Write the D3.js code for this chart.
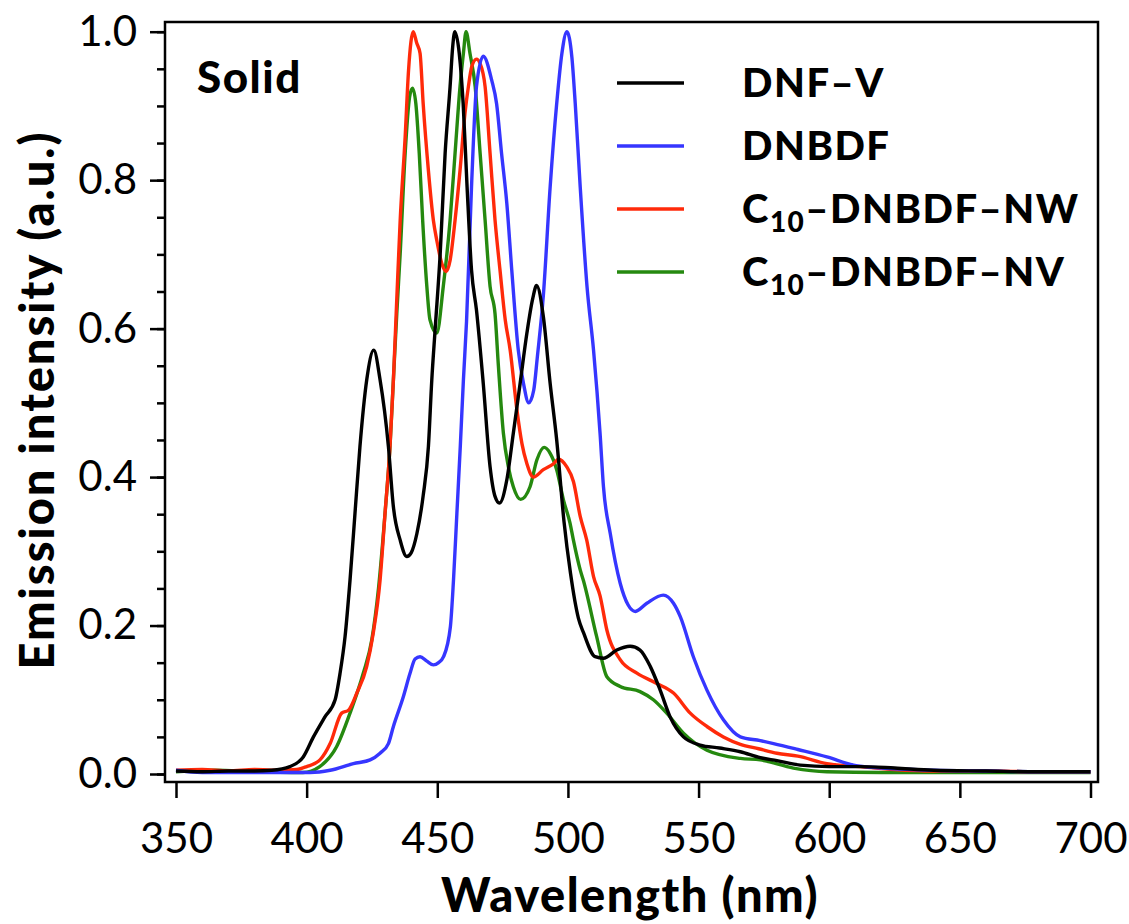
<!DOCTYPE html>
<html>
<head>
<meta charset="utf-8">
<style>
  body { margin: 0; background: #fff; }
  svg { display: block; font-family: Lato, "Open Sans", sans-serif; }
  .axis text { font-size: 42px; fill: #000; font-family: Lato, "Open Sans", sans-serif; }
  .axis line { stroke: #000; stroke-width: 2.5; }
  .title { font-weight: 900; }
</style>
</head>
<body>
<div id="chart"></div>
<script src="https://cdn.jsdelivr.net/npm/d3@7"></script>
<script>
// emission spectra, [wavelength nm, normalised intensity]
var dnfV = [
  [350,0.004],[360,0.003],[370,0.004],[380,0.004],[386.6,0.005],[393.6,0.01],[398.7,0.023],
  [402.6,0.05],[407,0.077],[410.9,0.10],[412.8,0.136],[414.7,0.185],[416.6,0.261],[418.5,0.351],
  [420.4,0.441],[423,0.531],[425.7,0.571],[428.1,0.531],[431.3,0.441],[433.2,0.36],[435.8,0.315],
  [438.3,0.293],[440,0.298],[442.2,0.324],[444.6,0.375],[446.6,0.441],[447.9,0.531],[449.2,0.60],
  [451.1,0.70],[453,0.836],[454.9,0.926],[455.9,0.98],[456.7,1.0],[458.4,0.971],[459.9,0.903],
  [461.4,0.791],[463.1,0.679],[465,0.625],[467.6,0.526],[470.2,0.414],[472.1,0.374],[473.8,0.365],
  [476.6,0.396],[479.1,0.459],[481.7,0.526],[484.3,0.594],[486.5,0.64],[488,0.658],[490.6,0.616],
  [493.2,0.526],[495.7,0.45],[498.5,0.34],[501,0.27],[504,0.21],[506,0.19],[510.4,0.158],
  [513.6,0.156],[518.7,0.167],[523.8,0.172],[527.6,0.167],[531.5,0.145],[535.3,0.113],[539.1,0.077],
  [544.2,0.05],[550.6,0.039],[558,0.035],[566,0.03],[573.6,0.022],[580,0.018],[588.9,0.012],
  [600,0.01],[612,0.01],[625,0.008],[640,0.005],[660,0.004],[680,0.003],[700,0.003]
];
var dnbdf = [
  [350,0.005],[360,0.002],[380,0.002],[401.3,0.002],[409,0.005],[417.9,0.014],[424.3,0.019],
  [428.1,0.028],[431.3,0.041],[433.2,0.064],[437,0.104],[439.6,0.136],[441.5,0.155],[443.4,0.158],
  [446,0.152],[448.5,0.147],[450.5,0.15],[452.4,0.158],[455,0.198],[456.2,0.261],[457.5,0.351],
  [458.8,0.441],[460,0.531],[461.2,0.61],[463.1,0.791],[465,0.926],[467.6,0.967],[470.8,0.935],
  [472.7,0.903],[474.6,0.836],[476.6,0.769],[478.5,0.679],[481,0.571],[483,0.526],[485,0.50],
  [486.9,0.517],[488.3,0.562],[490.6,0.645],[493.2,0.791],[495.7,0.903],[497.7,0.971],[499.6,1.0],
  [501.5,0.966],[502.8,0.903],[504.7,0.791],[507.3,0.657],[509.8,0.571],[512.3,0.459],[513.6,0.387],
  [516.2,0.324],[520,0.257],[523,0.228],[525.8,0.219],[530.2,0.23],[536.5,0.241],[540.4,0.23],
  [543,0.212],[548,0.158],[553.2,0.113],[559.5,0.073],[566,0.05],[573.6,0.045],[578.7,0.041],
  [588,0.033],[599.1,0.023],[609.3,0.012],[620,0.008],[640,0.005],[660,0.004],[680,0.003],[700,0.003]
];
var c10NW = [
  [350,0.005],[360,0.006],[370,0.004],[380,0.006],[390,0.005],[396.2,0.006],[400,0.01],[405.1,0.019],
  [409,0.041],[413.4,0.082],[416,0.086],[419.2,0.109],[423,0.145],[425.5,0.19],[428.1,0.261],
  [430,0.351],[431.9,0.441],[433.2,0.531],[434.5,0.64],[435.8,0.746],[437.7,0.858],[439,0.948],
  [440.8,1.0],[442.1,0.985],[443.4,0.971],[444.6,0.903],[446.6,0.813],[448.5,0.746],[449.8,0.719],
  [451.7,0.688],[453.4,0.677],[454.9,0.692],[456.8,0.746],[458.7,0.813],[460.6,0.89],[461.9,0.926],
  [463.2,0.953],[465,0.963],[466.4,0.957],[468.3,0.926],[470.2,0.836],[472.1,0.746],[474,0.679],
  [476,0.612],[477.9,0.571],[480.5,0.49],[482.4,0.445],[484.3,0.418],[486.8,0.40],[490.6,0.41],
  [494.5,0.418],[496.4,0.424],[499.5,0.414],[502.1,0.394],[504.7,0.347],[507.2,0.315],[509.8,0.266],
  [512.3,0.24],[514.9,0.194],[520,0.154],[526.4,0.136],[534,0.122],[540.4,0.109],[546.8,0.082],
  [553.2,0.064],[559.5,0.05],[566,0.04],[573,0.034],[580,0.028],[588,0.024],[599.1,0.014],
  [611.9,0.01],[625,0.006],[640,0.004],[660,0.004],[680,0.003],[700,0.003]
];
var c10NV = [
  [350,0.003],[365,0.005],[380,0.003],[398.6,0.002],[405,0.01],[411.5,0.037],[416.6,0.082],
  [421.7,0.136],[424.9,0.18],[427.5,0.25],[430,0.351],[431.9,0.441],[433.2,0.531],[434.5,0.62],
  [435.8,0.701],[437.7,0.836],[439.4,0.912],[440.5,0.924],[441.8,0.903],[443.1,0.836],[444.4,0.746],
  [446,0.657],[447.2,0.612],[449.8,0.594],[452.3,0.657],[454.9,0.746],[456.8,0.836],[458.7,0.926],
  [460,0.971],[461,1.0],[462.5,0.971],[464.5,0.926],[466.4,0.836],[468.3,0.746],[470.2,0.657],
  [472.1,0.62],[473.4,0.549],[475.3,0.459],[477.2,0.414],[479.1,0.387],[481.9,0.37],[485.5,0.387],
  [488.1,0.423],[490.9,0.44],[493.2,0.432],[495.7,0.41],[498.3,0.369],[500.8,0.338],[502.1,0.315],
  [504.7,0.275],[505.9,0.261],[511,0.185],[514.9,0.131],[520,0.118],[527.6,0.111],[532.7,0.1],
  [537.8,0.082],[544.2,0.055],[553.2,0.032],[566,0.021],[573.6,0.019],[586.3,0.008],[599.1,0.003],
  [620,0.002],[650,0.002],[700,0.002]
];

var xTicks = [350, 400, 450, 500, 550, 600, 650, 700];
var yTicks = [0, 0.2, 0.4, 0.6, 0.8, 1.0];
var yMinorTicks = d3.range(0, 1.0001, 0.05);

// legend: name, subscript, rest
var legendItems = [
  { pre: "DNF\u2013V", sub: "", post: "", color: "#000000" },
  { pre: "DNBDF", sub: "", post: "", color: "#3636ff" },
  { pre: "C", sub: "10", post: "\u2013DNBDF\u2013NW", color: "#ff2a0a" },
  { pre: "C", sub: "10", post: "\u2013DNBDF\u2013NV", color: "#25890f" }
];
var series = [
  { data: c10NV, color: "#25890f" },
  { data: c10NW, color: "#ff2a0a" },
  { data: dnbdf, color: "#3636ff" },
  { data: dnfV, color: "#000000" }
];

/*
 * Setup
 */
var W = 1129, H = 924;
var frame = { left: 165, top: 22, right: 1098, bottom: 782 };

var x = d3.scaleLinear().domain([350, 700]).range([176, 1090.5]);
var y = d3.scaleLinear().domain([0, 1]).range([774, 31.7]);

var svg = d3.select("#chart").append("svg")
  .attr("width", W)
  .attr("height", H);

/*
 * Curves
 */
var line = d3.line()
  .x(function(d) { return x(d[0]); })
  .y(function(d) { return y(d[1]); })
  .curve(d3.curveMonotoneX);

svg.selectAll("path.spectrum")
  .data(series)
  .enter()
  .append("path")
  .attr("class", "spectrum")
  .attr("fill", "none")
  .attr("stroke", function(d) { return d.color; })
  .attr("stroke-width", 3.4)
  .attr("stroke-linejoin", "round")
  .attr("d", function(d) { return line(d.data); });

/*
 * Axes
 */
var xAxis = d3.axisBottom(x)
  .tickValues(xTicks)
  .tickSize(16)
  .tickPadding(25)
  .tickFormat(d3.format("d"));

svg.append("g")
  .attr("class", "axis")
  .attr("transform", "translate(0," + frame.bottom + ")")
  .call(xAxis)
  .call(function(g) { g.select(".domain").remove(); });

// minor y ticks first, majors on top
svg.append("g")
  .attr("class", "axis")
  .attr("transform", "translate(" + frame.left + ",0)")
  .call(d3.axisLeft(y).tickValues(yMinorTicks).tickSize(8).tickFormat(""))
  .call(function(g) { g.select(".domain").remove(); });

svg.append("g")
  .attr("class", "axis")
  .attr("transform", "translate(" + frame.left + ",0)")
  .call(d3.axisLeft(y).tickValues(yTicks).tickSize(15).tickPadding(13).tickFormat(d3.format(".1f")))
  .call(function(g) { g.select(".domain").remove(); });

// let the css fonts win over d3's defaults
svg.selectAll(".axis").attr("font-family", null).attr("font-size", null);

// the box
svg.append("rect")
  .attr("x", frame.left)
  .attr("y", frame.top)
  .attr("width", frame.right - frame.left)
  .attr("height", frame.bottom - frame.top)
  .attr("fill", "none")
  .attr("stroke", "#000")
  .attr("stroke-width", 2.5);

/*
 * Labels
 */
svg.append("text")
  .attr("class", "title")
  .attr("x", 630)
  .attr("y", 912)
  .attr("text-anchor", "middle")
  .style("font-size", "47px")
  .style("letter-spacing", "1.5px")
  .text("Wavelength (nm)");

svg.append("text")
  .attr("class", "title")
  .attr("transform", "translate(54,400) rotate(-90)")
  .attr("text-anchor", "middle")
  .style("font-size", "47px")
  .style("letter-spacing", "2px")
  .text("Emission intensity (a.u.)");

svg.append("text")
  .attr("class", "title")
  .attr("x", 197)
  .attr("y", 93)
  .style("font-size", "44px")
  .style("letter-spacing", "1.5px")
  .text("Solid");

/*
 * Legend
 */
var legend = svg.append("g");
var rows = legend.selectAll("g")
  .data(legendItems)
  .enter()
  .append("g")
  .attr("transform", function(d, i) { return "translate(0," + (i * 63) + ")"; });

rows.append("line")
  .attr("x1", 617).attr("x2", 684)
  .attr("y1", 83).attr("y2", 83)
  .attr("stroke", function(d) { return d.color; })
  .attr("stroke-width", 3.5);

var lt = rows.append("text")
  .attr("class", "title")
  .attr("x", 742)
  .attr("y", 97)
  .style("font-size", "40px")
  .style("letter-spacing", "1.5px");

lt.append("tspan").text(function(d) { return d.pre; });
lt.append("tspan")
  .attr("dy", function(d) { return d.sub ? 9 : 0; })
  .style("font-size", "28px")
  .text(function(d) { return d.sub; });
lt.append("tspan")
  .attr("dy", function(d) { return d.sub ? -9 : 0; })
  .text(function(d) { return d.post; });
</script>
</body>
</html>
